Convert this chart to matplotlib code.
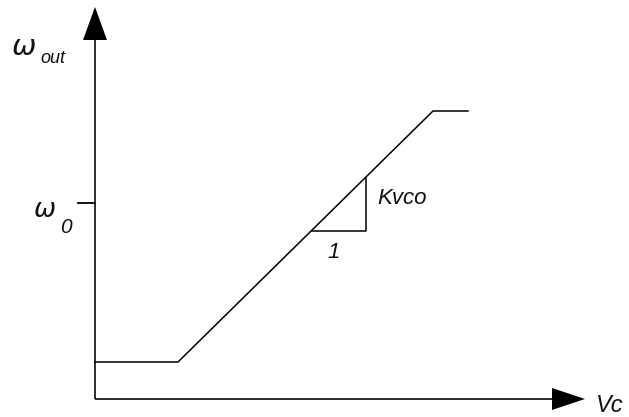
import matplotlib
matplotlib.use("Agg")
import matplotlib.pyplot as plt

# VCO transfer characteristic: control voltage vs. output frequency
# (units are arbitrary, origin at the axis crossing)
vc = [0, 83, 338, 373]
w_out = [37, 37, 288, 288]

# slope triangle showing Kvco over a unit step of Vc
tri_vc = [217, 271, 271]
tri_w = [168, 168, 221]

w0_level = 196
x_end, y_end = 490, 392

fig = plt.figure(figsize=(6.29, 4.17), dpi=100)
ax = fig.add_axes([0, 0, 1, 1])
ax.set_xlim(-95, 534)
ax.set_ylim(-18, 399)
ax.axis("off")

# axes with filled arrow heads
ax.arrow(0, 0, 0, y_end, width=1.6, head_width=24, head_length=33,
         length_includes_head=True, color="black", lw=0)
ax.arrow(0, 0, x_end, 0, width=1.6, head_width=22, head_length=33,
         length_includes_head=True, color="black", lw=0)

# curve
ax.plot(vc, w_out, color="black", lw=1.1, solid_joinstyle="miter")

# slope triangle
ax.plot(tri_vc, tri_w, color="black", lw=1.1)

# ω0 tick
ax.plot([-17, 0], [w0_level, w0_level], color="black", lw=1.3)

font = dict(family="Liberation Sans", style="italic", color="#111111",
            ha="left", va="baseline")
greek = dict(font, family="DejaVu Sans", style="oblique")
ax.text(-83, 344, "ω", fontsize=21, **greek)
ax.text(-55, 336, "out", fontsize=13, **font)
ax.text(-61, 182, "ω", fontsize=19, **greek)
ax.text(-35, 166, "0", fontsize=15, **font)
ax.text(282, 195, "Kvco", fontsize=16, **font)
ax.text(232, 141, "1", fontsize=16, **font)
ax.text(501, -13, "Vc", fontsize=17, **font)

fig.savefig("out.png", dpi=100)
